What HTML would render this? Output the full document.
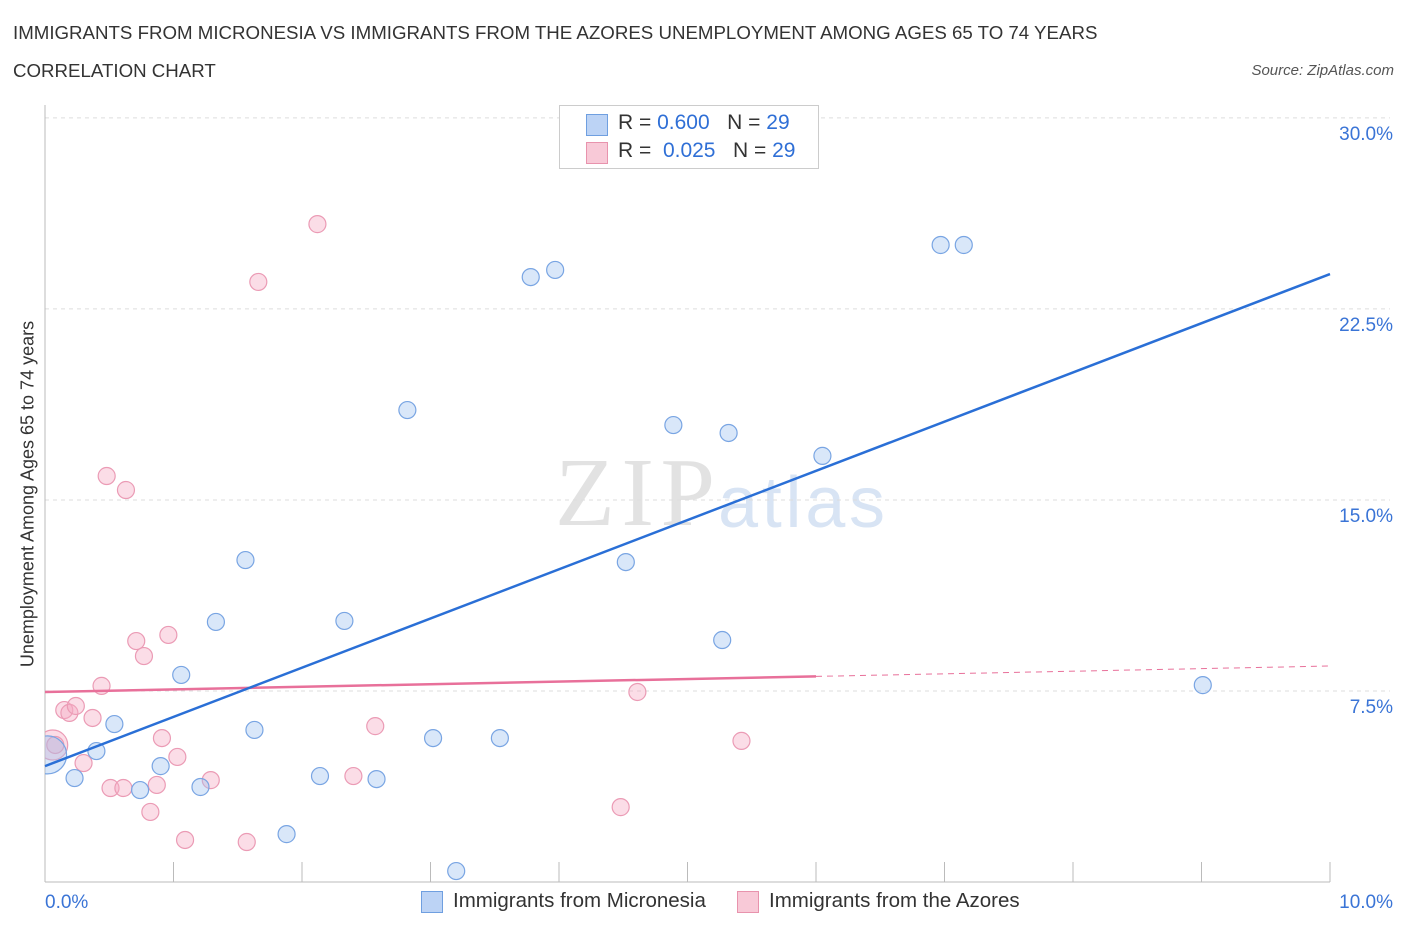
<!DOCTYPE html>
<html><head><meta charset="utf-8"><style>
body{margin:0;background:#fff;font-family:"Liberation Sans",sans-serif;}
#wrap{position:relative;width:1406px;height:930px;overflow:hidden;}
.t{position:absolute;white-space:nowrap;}
</style></head><body>
<div id="wrap">
<div class="t" style="left:13px;top:22px;font-size:18.7px;color:#333;">IMMIGRANTS FROM MICRONESIA VS IMMIGRANTS FROM THE AZORES UNEMPLOYMENT AMONG AGES 65 TO 74 YEARS</div>
<div class="t" style="left:13px;top:60px;font-size:18.7px;color:#333;">CORRELATION CHART</div>
<div class="t" style="right:12px;top:62px;font-size:15px;color:#555;font-style:italic;">Source: ZipAtlas.com</div>
<svg id="svg" width="1406" height="930" style="position:absolute;left:0;top:0"></svg>
<div class="t" style="left:28px;top:494px;font-size:18px;color:#333;transform:translate(-50%,-50%) rotate(-90deg);">Unemployment Among Ages 65 to 74 years</div>
<div style="position:absolute;left:559px;top:105px;width:258px;height:62px;border:1px solid #ccc;background:#fff;font-size:21px;color:#333;">
 <div style="position:absolute;left:26px;top:8px;width:20px;height:20px;background:#bcd3f5;border:1px solid #6f9fe0;"></div>
 <div class="t" style="left:58px;top:5px;">R = <span style="color:#2f6fd6">0.600</span>&nbsp;&nbsp;&nbsp;N = <span style="color:#2f6fd6">29</span></div>
 <div style="position:absolute;left:26px;top:36px;width:20px;height:20px;background:#f8c9d7;border:1px solid #e893ad;"></div>
 <div class="t" style="left:58px;top:33px;">R = &nbsp;<span style="color:#2f6fd6">0.025</span>&nbsp;&nbsp;&nbsp;N = <span style="color:#2f6fd6">29</span></div>
</div>
<div style="position:absolute;left:421px;top:891px;width:20px;height:20px;background:#bcd3f5;border:1px solid #6f9fe0;"></div>
<div class="t" style="left:453px;top:889px;font-size:20.5px;color:#333;">Immigrants from Micronesia</div>
<div style="position:absolute;left:737px;top:891px;width:20px;height:20px;background:#f8c9d7;border:1px solid #e893ad;"></div>
<div class="t" style="left:769px;top:889px;font-size:20.5px;color:#333;">Immigrants from the Azores</div>
</div>
<script>
const yTicks=[7.5,15,22.5,30];
const yTickLabels=["7.5%","15.0%","22.5%","30.0%"];
const xTickLabels=["0.0%","10.0%"];
const blueX=[0.02,0.23,0.40,0.54,0.74,0.90,1.06,1.21,1.33,1.56,1.63,1.88,2.14,2.33,2.58,2.82,3.02,3.20,3.54,3.78,3.97,4.52,4.89,5.27,5.32,6.05,6.97,7.15,9.01];
const blueY=[4.99,4.08,5.14,6.20,3.61,4.55,8.13,3.73,10.21,12.64,5.97,1.88,4.16,10.25,4.04,18.53,5.65,0.43,5.65,23.75,24.03,12.56,17.94,9.50,17.63,16.73,25.01,25.01,7.73];
const pinkX=[0.06,0.08,0.15,0.19,0.24,0.30,0.37,0.44,0.48,0.51,0.61,0.63,0.71,0.77,0.82,0.87,0.91,0.96,1.03,1.09,1.29,1.57,1.66,2.12,2.40,2.57,4.48,4.61,5.42];
const pinkY=[5.38,5.38,6.75,6.64,6.91,4.67,6.44,7.70,15.94,3.69,3.69,15.39,9.46,8.87,2.75,3.81,5.65,9.70,4.91,1.65,4.00,1.57,23.56,25.83,4.16,6.12,2.94,7.46,5.54];
const blueTrend=[4.55,23.87];
const pinkTrend=[7.46,8.48];
const X=v=>45+v*128.5, Y=v=>882-v*25.47;
const s=document.getElementById('svg'),NS='http://www.w3.org/2000/svg';
function mk(t,a,p){const e=document.createElementNS(NS,t);for(const k in a)e.setAttribute(k,a[k]);(p||s).appendChild(e);return e;}
const d=mk('defs',{});const cp=mk('clipPath',{id:'c'},d);mk('rect',{x:45,y:90,width:1300,height:792},cp);
let e=mk('text',{x:555,y:525,'font-size':98,'font-family':'Liberation Serif',fill:'#e2e2e2',textLength:160});e.textContent='ZIP';


e=mk('text',{x:718,y:527,'font-size':72,'font-family':'Liberation Sans',fill:'#d8e4f4',textLength:167});e.textContent='atlas';


yTicks.forEach((v,i)=>{
 e=mk('line',{x1:45,x2:1390,y1:Y(v),y2:Y(v),stroke:'#ddd','stroke-dasharray':'4,4'});
 
 
 e=mk('text',{x:1393,y:Y(v)+22,'font-size':19,fill:'#3a74d6','text-anchor':'end'});e.textContent=yTickLabels[i];
 
 
});
mk('line',{x1:45,x2:45,y1:105,y2:882,stroke:'#bbb'});
mk('line',{x1:45,x2:1330,y1:882,y2:882,stroke:'#bbb'});
for(let i=1;i<=10;i++){e=mk('line',{x1:X(i),x2:X(i),y1:862,y2:882,stroke:'#bbb'});
 
 }
e=mk('text',{x:45,y:908,'font-size':19,fill:'#3a74d6'});e.textContent=xTickLabels[0];


e=mk('text',{x:1393,y:908,'font-size':19,fill:'#3a74d6','text-anchor':'end'});e.textContent=xTickLabels[1];


const g=mk('g',{'clip-path':'url(#c)'});
pinkX.forEach((x,i)=>{e=mk('circle',{cx:X(x),cy:Y(pinkY[i]),r:i==0?15:8.5,fill:'rgba(245,170,195,0.4)',stroke:'#eb9bb5','stroke-width':1.2},g);
 
 });
blueX.forEach((x,i)=>{e=mk('circle',{cx:X(x),cy:Y(blueY[i]),r:i==0?19:8.5,fill:'rgba(160,195,240,0.4)',stroke:'#79a5e3','stroke-width':1.2},g);
 
 });
const pv=x=>pinkTrend[0]+(pinkTrend[1]-pinkTrend[0])*x/10;
e=mk('line',{x1:X(0),y1:Y(pv(0)),x2:X(6),y2:Y(pv(6)),stroke:'#e8709a','stroke-width':2.5});


e=mk('line',{x1:X(6),y1:Y(pv(6)),x2:X(10),y2:Y(pv(10)),stroke:'#e8709a','stroke-width':1,'stroke-dasharray':'6,5'});


e=mk('line',{x1:X(0),y1:Y(blueTrend[0]),x2:X(10),y2:Y(blueTrend[1]),stroke:'#2a6fd6','stroke-width':2.5});


</script>
</body></html>
